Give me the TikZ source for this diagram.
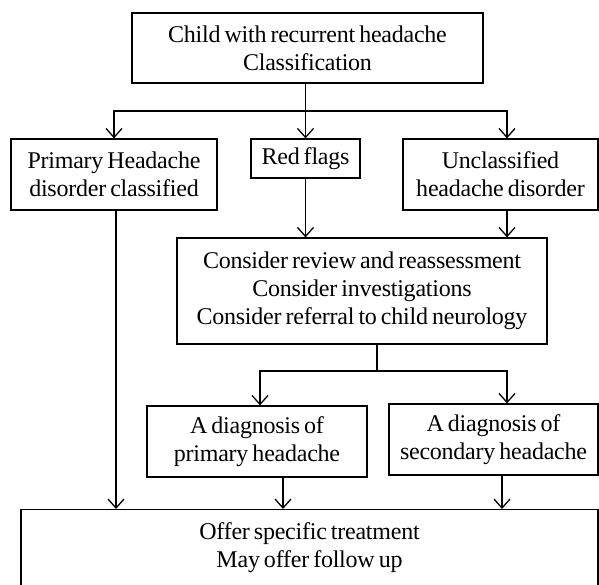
\documentclass[tikz,border=0pt]{standalone}
\usepackage{fontspec}
\setmainfont[LetterSpace=-1.0, WordSpace=0.7]{Liberation Serif}
\usepackage{tikz}
\usetikzlibrary{arrows.meta, positioning, calc}

\begin{document}
\begin{tikzpicture}[x=1pt, y=-1pt,
    box/.style={draw, line width=1.2pt, align=center, inner sep=1pt,
                font=\fontsize{24}{28}\selectfont},
    arr/.style={line width=1.3pt, -{Straight Barb[length=9pt, width=16pt, line width=1.3pt]}},
    lin/.style={line width=1.3pt}]
      \useasboundingbox (0,0) rectangle (599,585);
      \node[box, minimum width=351pt, minimum height=70pt] (child) at (307.5,48)
        {Child with recurrent headache\\Classification};
      \node[box, minimum width=206pt, minimum height=71pt] (primary) at (114,174.5)
        {Primary Headache\\disorder classified};
      \node[box, minimum width=109pt, minimum height=39pt] (redflags) at (305.5,158.5)
        {Red flags};
      \node[box, minimum width=195pt, minimum height=71pt] (unclass) at (500.5,174.5)
        {Unclassified\\headache disorder};
      \node[box, minimum width=370pt, minimum height=106pt] (consider) at (362,291)
        {Consider review and reassessment\\Consider investigations\\Consider referral to child neurology};
      \node[box, minimum width=220pt, minimum height=71pt] (dxprim) at (257,441.5)
        {A diagnosis of\\primary headache};
      \node[box, minimum width=209pt, minimum height=71pt] (dxsec) at (493.5,439.5)
        {A diagnosis of\\secondary headache};
      \node[box, anchor=north, minimum width=577pt, inner ysep=13pt, text depth=60pt] (offer)
        at (309.5,509) {Offer specific treatment\\May offer follow up};
      % first split
      \coordinate (bus1) at (305.5,111);
      \draw[arr] (child.south -| redflags.north) -- (redflags.north);
      \draw[arr] (bus1) -| (primary.north);
      \draw[arr] (bus1) -| ([xshift=6.5pt]unclass.north);
      \draw[arr] (redflags.south) -- (redflags.south |- consider.north);
      \draw[arr] ([xshift=6.5pt]unclass.south) -- ([xshift=6.5pt]unclass.south |- consider.north);
      % second split
      \coordinate (bus2) at (377,371);
      \draw[lin] (consider.south -| bus2) -- (bus2);
      \draw[arr] (bus2) -| ([xshift=3pt]dxprim.north);
      \draw[arr] (bus2) -| ([xshift=13.5pt]dxsec.north);
      % into treatment
      \draw[arr] ([xshift=2pt]primary.south) -- ([xshift=2pt]primary.south |- offer.north);
      \draw[arr] ([xshift=26pt]dxprim.south) -- ([xshift=26pt]dxprim.south |- offer.north);
      \draw[arr] ([xshift=8.5pt]dxsec.south) -- ([xshift=8.5pt]dxsec.south |- offer.north);
    \end{tikzpicture}
\end{document}
